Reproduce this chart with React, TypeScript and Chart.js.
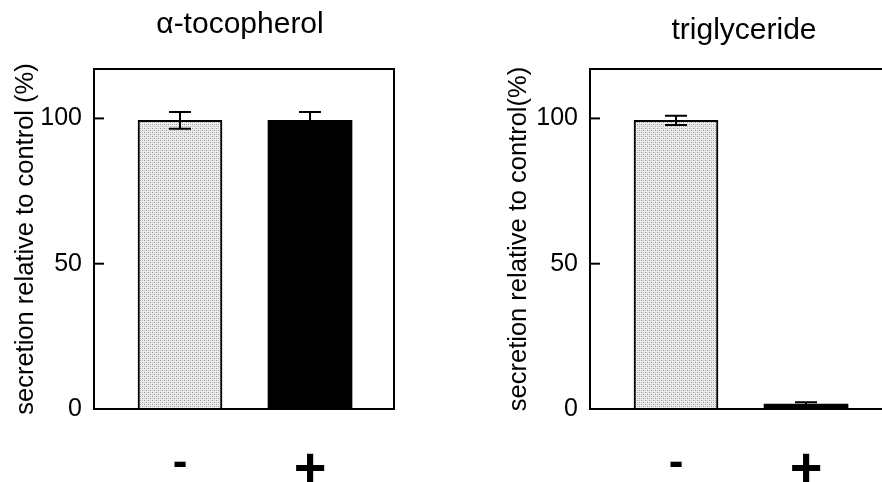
import React, { useEffect, useRef } from "react";
import { Chart, registerables } from "chart.js";

Chart.register(...registerables);

const categories = ["-", "+"];
const tocopherolValues = [99.3, 99.3];
const tocopherolErrors = [2.9, 2.9];
const triglycerideValues = [99.3, 1.7];
const triglycerideErrors = [1.6, 0.6];
const yTickValues = [0, 50, 100];
const panelTitles = ["α-tocopherol", "triglyceride"];
const yAxisTitles = ["secretion relative to control (%)", "secretion relative to control(%)"];

const FONT = "'Liberation Sans', Arial, Helvetica, sans-serif";

function makeStipple(): CanvasPattern | string {
  const c = document.createElement("canvas");
  c.width = 4;
  c.height = 4;
  const ctx = c.getContext("2d");
  if (!ctx) return "#d8d8d8";
  ctx.fillStyle = "#ececec";
  ctx.fillRect(0, 0, 4, 4);
  ctx.fillStyle = "#9a9a9a";
  ctx.fillRect(0, 0, 1, 1);
  ctx.fillRect(2, 2, 1, 1);
  ctx.fillStyle = "#c4c4c4";
  ctx.fillRect(2, 0, 1, 1);
  ctx.fillRect(0, 2, 1, 1);
  const p = ctx.createPattern(c, "repeat");
  return p || "#d8d8d8";
}

const panelPlugin = {
  id: "panelDecor",
  afterDatasetsDraw(chart: any, _args: any, opts: any) {
    const { ctx, chartArea } = chart;
    const yScale = chart.scales.y;
    const { left, right, top, bottom } = chartArea;
    ctx.save();
    // error bars
    const meta = chart.getDatasetMeta(0);
    const ds = chart.data.datasets[0];
    const errs: number[] = opts.errors || [];
    ctx.strokeStyle = "#000";
    ctx.lineWidth = 2;
    meta.data.forEach((el: any, i: number) => {
      const v = ds.data[i].y;
      const e = errs[i] || 0;
      const yT = yScale.getPixelForValue(v + e);
      const yB = yScale.getPixelForValue(v - e);
      const x = el.x;
      ctx.beginPath();
      ctx.moveTo(x, yT);
      ctx.lineTo(x, yB);
      ctx.moveTo(x - 11, yT);
      ctx.lineTo(x + 11, yT);
      ctx.moveTo(x - 11, yB);
      ctx.lineTo(x + 11, yB);
      ctx.stroke();
    });
    // frame
    ctx.lineWidth = 2;
    ctx.beginPath();
    ctx.moveTo(left, bottom);
    ctx.lineTo(left, top);
    ctx.lineTo(right, top);
    ctx.lineTo(right, bottom);
    ctx.moveTo(left - 1, bottom);
    ctx.lineTo(right + 1, bottom);
    ctx.stroke();
    // inward tick marks
    yScale.ticks.forEach((t: any) => {
      const y = yScale.getPixelForValue(t.value);
      ctx.beginPath();
      ctx.moveTo(left, y);
      ctx.lineTo(left + 10, y);
      ctx.stroke();
    });
    // panel title
    ctx.fillStyle = "#000";
    ctx.font = `${opts.titleSize}px ${FONT}`;
    ctx.textAlign = "center";
    ctx.textBaseline = "alphabetic";
    ctx.fillText(opts.title, (left + right) / 2 + opts.titleDx, opts.titleBaseline);
    ctx.restore();
  },
};

function makeConfig(
  values: number[],
  errors: number[],
  title: string,
  yTitle: string,
  padLeft: number,
  titleDx: number,
  titleBaseline: number,
  yTitlePad: number
): any {
  const stipple = makeStipple();
  return {
    type: "bar",
    data: {
      datasets: [
        {
          data: values.map((v, i) => ({ x: i, y: v })),
          backgroundColor: [stipple, "#000"],
          borderColor: "#000",
          borderWidth: [2, 0],
          borderSkipped: "bottom",
          barThickness: 84,
        },
      ],
    },
    options: {
      responsive: false,
      animation: false,
      devicePixelRatio: 1,
      layout: { padding: { top: 69, right: 47, bottom: 0, left: padLeft } },
      plugins: {
        legend: { display: false },
        tooltip: { enabled: false },
        title: { display: false },
        panelDecor: {
          errors,
          title,
          titleSize: 30,
          titleDx,
          titleBaseline,
        },
      },
      scales: {
        x: {
          type: "linear",
          offset: false,
          bounds: "data",
          min: -0.6615,
          max: 1.646,
          grid: { display: false, drawTicks: false },
          border: { display: false },
          afterBuildTicks: (s: any) => {
            s.ticks = categories.map((_c, i) => ({ value: i }));
          },
          afterFit: (s: any) => {
            s.height = 73;
          },
          ticks: {
            autoSkip: false,
            maxRotation: 0,
            padding: 28,
            color: "#000",
            font: (c: any) => ({
              family: FONT,
              size: c.index === 0 ? 44 : 56,
              weight: "bold",
            }),
            callback: (v: any) => categories[Math.round(Number(v))] ?? "",
          },
        },
        y: {
          min: 0,
          max: 117,
          grid: { display: false, drawTicks: false },
          border: { display: false },
          afterBuildTicks: (s: any) => {
            s.ticks = yTickValues.map((v) => ({ value: v }));
          },
          afterFit: (s: any) => {
            s.width = 94;
          },
          ticks: {
            padding: 12,
            color: "#000",
            font: { family: FONT, size: 25 },
          },
          title: {
            display: true,
            text: yTitle,
            color: "#000",
            padding: { top: yTitlePad, bottom: 0 },
            font: { family: FONT, size: 25.5 },
          },
        },
      },
    },
    plugins: [panelPlugin],
  };
}

export default function App() {
  const leftRef = useRef<HTMLCanvasElement | null>(null);
  const rightRef = useRef<HTMLCanvasElement | null>(null);

  useEffect(() => {
    const charts: Chart[] = [];
    if (leftRef.current) {
      charts.push(
        new Chart(
          leftRef.current,
          makeConfig(tocopherolValues, tocopherolErrors, panelTitles[0], yAxisTitles[0], 0, -4, 33, 11)
        )
      );
    }
    if (rightRef.current) {
      charts.push(
        new Chart(
          rightRef.current,
          makeConfig(triglycerideValues, triglycerideErrors, panelTitles[1], yAxisTitles[1], 55, 4, 39, 8)
        )
      );
    }
    return () => charts.forEach((c) => c.destroy());
  }, []);

  return (
    <div
      style={{
        position: "fixed",
        left: 0,
        top: 0,
        width: 882,
        height: 482,
        overflow: "hidden",
        background: "#fff",
      }}
    >
      <canvas
        ref={leftRef}
        width={441}
        height={482}
        style={{ position: "absolute", left: 0, top: 0, width: 441, height: 482 }}
      />
      <canvas
        ref={rightRef}
        width={496}
        height={482}
        style={{ position: "absolute", left: 441, top: 0, width: 496, height: 482 }}
      />
    </div>
  );
}
